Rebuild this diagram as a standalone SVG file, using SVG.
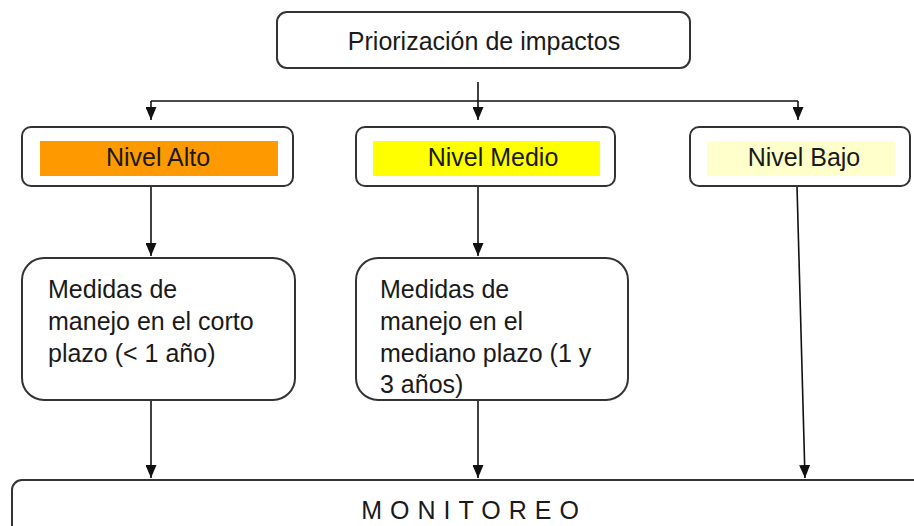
<svg xmlns="http://www.w3.org/2000/svg" width="914" height="526" viewBox="0 0 914 526">
<defs>
<marker id="ah" markerWidth="13" markerHeight="11" refX="13" refY="5.5" orient="auto" markerUnits="userSpaceOnUse" viewBox="0 0 13 11">
<path d="M0,0 L13,5.5 L0,11 Z" fill="#111"/>
</marker>
</defs>
<style>
.box{fill:#fff;stroke:#333;stroke-width:2}
.t{font-family:"Liberation Sans",Arial,sans-serif;font-size:25px;fill:#1a1a1a}
.c{fill:none;stroke:#111;stroke-width:1.6}
</style>
<rect width="914" height="526" fill="#fff"/>
<g id="connectors">
<line class="c" x1="478" y1="82" x2="478" y2="120" marker-end="url(#ah)"/>
<polyline class="c" points="151,101 798,101"/>
<line class="c" x1="151" y1="101" x2="151" y2="120" marker-end="url(#ah)"/>
<line class="c" x1="798" y1="101" x2="798" y2="120" marker-end="url(#ah)"/>
<line class="c" x1="151" y1="186" x2="151" y2="256" marker-end="url(#ah)"/>
<line class="c" x1="478" y1="186" x2="478" y2="256" marker-end="url(#ah)"/>
<line class="c" x1="797" y1="186" x2="805" y2="478" marker-end="url(#ah)"/>
<line class="c" x1="151" y1="400" x2="151" y2="478" marker-end="url(#ah)"/>
<line class="c" x1="478" y1="400" x2="478" y2="478" marker-end="url(#ah)"/>
</g>
<g id="priorizacion">
<rect class="box" x="277" y="12" width="413" height="56" rx="10"/>
<text class="t" x="484" y="50" text-anchor="middle">Priorización de impactos</text>
</g>
<g id="nivel-alto">
<rect class="box" x="22" y="127" width="271" height="59" rx="9"/>
<rect x="40" y="141" width="238" height="35" fill="#ff9900"/>
<text class="t" x="158" y="166" text-anchor="middle">Nivel Alto</text>
</g>
<g id="nivel-medio">
<rect class="box" x="356" y="127" width="259" height="59" rx="9"/>
<rect x="373" y="141" width="227" height="35" fill="#ffff00"/>
<text class="t" x="493" y="166" text-anchor="middle">Nivel Medio</text>
</g>
<g id="nivel-bajo">
<rect class="box" x="690" y="127" width="220" height="59" rx="9"/>
<rect x="707" y="141" width="188" height="35" fill="#ffffcc"/>
<text class="t" x="804" y="166" text-anchor="middle">Nivel Bajo</text>
</g>
<g id="medidas-corto">
<rect class="box" x="22" y="258" width="273" height="142" rx="22"/>
<text class="t" x="48" y="298">Medidas de</text>
<text class="t" x="48" y="330">manejo en el corto</text>
<text class="t" x="48" y="362">plazo (&lt; 1 año)</text>
</g>
<g id="medidas-mediano">
<rect class="box" x="356" y="258" width="272" height="142" rx="22"/>
<text class="t" x="380" y="298">Medidas de</text>
<text class="t" x="380" y="330">manejo en el</text>
<text class="t" x="380" y="362">mediano plazo (1 y</text>
<text class="t" x="380" y="393">3 años)</text>
</g>
<g id="monitoreo">
<rect class="box" x="12" y="480" width="920" height="70" rx="10"/>
<text class="t" x="474" y="519" text-anchor="middle" letter-spacing="8">MONITOREO</text>
</g>
</svg>
